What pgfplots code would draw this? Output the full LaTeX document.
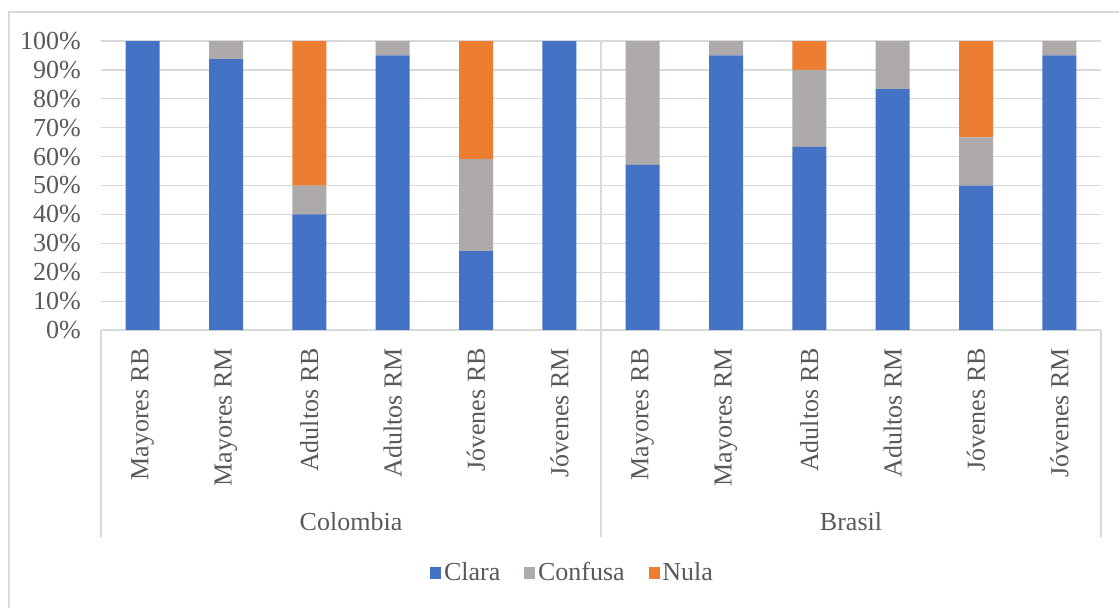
\documentclass[border=0pt]{standalone}
\usepackage{fontspec}
\setmainfont{Liberation Serif}
\usepackage{pgfplots}
\usepackage{pgfplotstable}
\pgfplotsset{compat=1.18}

\definecolor{clara}{HTML}{4472C4}
\definecolor{confusa}{HTML}{AEAAAA}
\definecolor{nula}{HTML}{ED7D31}
\definecolor{gridc}{HTML}{D9D9D9}
\definecolor{txt}{HTML}{595959}

% categorias 0..11: Colombia (0-5), Brasil (6-11)
\pgfplotstableread{
x clara confusa nula
0 100 0 0
1 93.75 6.25 0
2 40 10 50
3 95 5 0
4 27.27 31.82 40.91
5 100 0 0
6 57.14 42.86 0
7 95 5 0
8 63.33 26.67 10
9 83.33 16.67 0
10 50 16.67 33.33
11 95 5 0
}\datos

\begin{document}
\fontsize{19.5}{23}\selectfont
\begin{tikzpicture}
\useasboundingbox (0,0) rectangle (839.25pt,456pt);
\draw[gridc, line width=0.9pt] (6.75pt,0) -- (6.75pt,447pt) -- (839.25pt,447pt);
\begin{axis}[
  at={(75.75pt,208.5pt)}, anchor=south west,
  scale only axis, width=750pt, height=216.75pt,
  ybar stacked, bar width=25.5pt,
  xmin=-0.5, xmax=11.5, ymin=0, ymax=100,
  clip=false,
  xtick={0,...,11},
  xticklabels={Mayores RB, Mayores RM, Adultos RB, Adultos RM, Jóvenes RB, Jóvenes RM,
               Mayores RB, Mayores RM, Adultos RB, Adultos RM, Jóvenes RB, Jóvenes RM},
  ytick={0,10,...,100},
  yticklabel={\pgfmathprintnumber{\tick}\%},
  /pgf/number format/assume math mode=true,
  ymajorgrids, grid style={gridc, line width=0.9pt},
  axis line style={draw=none},
  major tick length=0pt,
  tick label style={font=\fontsize{19.5}{23}\selectfont, text=txt},
  yticklabel style={anchor=east, inner sep=0pt},
  yticklabel shift=15pt,
  xticklabel style={rotate=90, anchor=east, inner sep=0pt},
  xticklabel shift=13.5pt,
  legend columns=3,
  legend style={draw=none, fill=none, at={(0.472,-0.8408)}, anchor=center,
    font=\fontsize{19.5}{23}\selectfont, text=txt,
    /tikz/every even column/.append style={column sep=16pt}},
  legend image code/.code={\fill[#1] (0pt,-4.3pt) rectangle (8.25pt,4.3pt);},
]
\addplot[fill=clara, draw=none] table[x=x, y=clara] {\datos};
\addlegendentry{Clara}
\addplot[fill=confusa, draw=none] table[x=x, y=confusa] {\datos};
\addlegendentry{Confusa}
\addplot[fill=nula, draw=none] table[x=x, y=nula] {\datos};
\addlegendentry{Nula}

% caja de agrupacion de categorias
\draw[gridc, line width=0.9pt] (axis cs:-0.5,0) -- (axis cs:11.5,0);
\draw[gridc, line width=0.9pt] (axis cs:-0.5,0) -- ({axis cs:-0.5,0}|-{rel axis cs:0,-0.7163});
\draw[gridc, line width=0.9pt] (axis cs:11.5,0) -- ({axis cs:11.5,0}|-{rel axis cs:0,-0.7163});
\draw[gridc, line width=0.9pt] (axis cs:5.5,100) -- ({axis cs:5.5,0}|-{rel axis cs:0,-0.7163});
\node[text=txt] at ({axis cs:2.5,0}|-{rel axis cs:0,-0.6644}) {Colombia};
\node[text=txt] at ({axis cs:8.5,0}|-{rel axis cs:0,-0.6644}) {Brasil};
\end{axis}
\end{tikzpicture}
\end{document}
